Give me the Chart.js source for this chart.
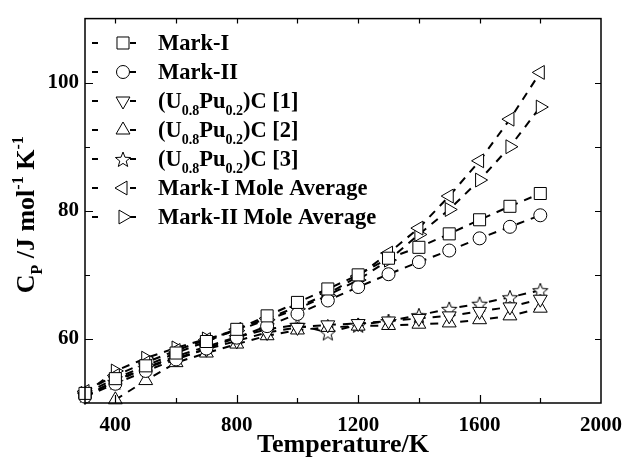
<!DOCTYPE html>
<html>
<head>
<meta charset="utf-8">
<title>Heat capacity</title>
<script src="https://cdn.jsdelivr.net/npm/chart.js@4.4.1/dist/chart.umd.min.js"></script>
<style>
  html, body { margin: 0; padding: 0; background: #fff; }
  #wrap { width: 632px; height: 461px; }
</style>
</head>
<body>
<div id="wrap"><canvas id="cpChart" width="632" height="461"></canvas></div>
<script>
// temperatures (K)
const temps = [300, 400, 500, 600, 700, 800, 900, 1000, 1100, 1200, 1300, 1400, 1500, 1600, 1700, 1800];

// Cp values, J mol-1 K-1
const markI     = [51.5, 53.8, 55.8, 57.8, 59.6, 61.5, 63.6, 65.7, 67.8, 70.0, 72.6, 74.3, 76.4, 78.6, 80.7, 82.7];
const markII    = [51.0, 53.0, 55.0, 56.8, 58.5, 60.2, 62.0, 63.9, 66.0, 68.1, 70.1, 72.0, 73.8, 75.7, 77.5, 79.3];
const upc1      = [51.0, 53.5, 55.5, 57.0, 58.4, 59.7, 61.0, 61.8, 62.2, 62.4, 62.8, 63.2, 63.6, 64.3, 65.0, 66.2];
const upc2      = [null, 50.5, 53.5, 56.3, 57.8, 59.2, 60.5, 61.4, 61.8, 62.0, 62.1, 62.3, 62.5, 63.0, 63.6, 64.8];
const upc3      = [51.3, 53.3, 55.5, 57.3, 58.8, 60.3, 61.5, 62.2, 61.0, 62.2, 62.8, 63.7, 64.7, 65.5, 66.5, 67.6];
const markIAvg  = [51.8, 54.3, 56.3, 58.2, 59.9, 61.5, 63.2, 65.0, 67.0, 69.8, 73.4, 77.3, 82.3, 87.8, 94.3, 101.6];
const markIIAvg = [51.5, 55.0, 57.0, 58.6, 60.0, 61.3, 63.0, 64.7, 66.8, 69.2, 72.3, 76.3, 80.2, 84.8, 90.0, 96.2];

const seriesNames = ["Mark-I", "Mark-II", "(U0.8Pu0.2)C [1]", "(U0.8Pu0.2)C [2]",
                     "(U0.8Pu0.2)C [3]", "Mark-I Mole Average", "Mark-II Mole Average"];

const FONT = "'Liberation Serif', 'Times New Roman', serif";

// hollow five point star, Chart.js has no such point style
function makeStar(outer, inner) {
  const c = document.createElement("canvas");
  const s = Math.ceil(outer * 2 + 4);
  c.width = s; c.height = s;
  const g = c.getContext("2d");
  g.beginPath();
  for (let i = 0; i < 10; i++) {
    const r = i % 2 === 0 ? outer : inner;
    const a = -Math.PI / 2 + i * Math.PI / 5;
    const px = s / 2 + r * Math.cos(a), py = s / 2 + 1 + r * Math.sin(a);
    if (i === 0) g.moveTo(px, py); else g.lineTo(px, py);
  }
  g.closePath();
  g.fillStyle = "#fff";
  g.fill();
  g.strokeStyle = "#000";
  g.lineWidth = 1;
  g.stroke();
  return c;
}
const starImg = makeStar(8, 3.4);

// marker per series: style, rotation, radius
const markers = [
  { style: "rect", rot: 0, r: 8.5 },
  { style: "circle", rot: 0, r: 6.5 },
  { style: "triangle", rot: 180, r: 8 },
  { style: "triangle", rot: 0, r: 8 },
  { style: starImg, rot: 0, r: 8 },
  { style: "triangle", rot: 270, r: 8 },
  { style: "triangle", rot: 90, r: 8 }
];

const allData = [markI, markII, upc1, upc2, upc3, markIAvg, markIIAvg];

const datasets = allData.map((vals, i) => ({
  label: seriesNames[i],
  data: temps.map((t, k) => ({ x: t, y: vals[k] })),
  borderColor: "#000",
  borderWidth: 2,
  borderDash: [8, 7],
  backgroundColor: "#fff",
  pointStyle: markers[i].style,
  rotation: markers[i].rot,
  pointRadius: markers[i].r,
  pointBorderWidth: 1,
  pointBorderColor: "#000",
  pointBackgroundColor: "#fff",
  fill: false,
  tension: 0,
  clip: false
}));

// draw a run of text pieces (normal / sub / superscript)
function drawPieces(ctx, pieces, x, y, size, align) {
  const small = Math.round(size * 0.6);
  let total = 0;
  pieces.forEach(p => {
    ctx.font = "bold " + (p.s ? small : size) + "px " + FONT;
    p.w = ctx.measureText(p.t).width;
    total += p.w;
  });
  let cx = align === "center" ? x - total / 2 : x;
  pieces.forEach(p => {
    ctx.font = "bold " + (p.s ? small : size) + "px " + FONT;
    ctx.fillText(p.t, cx, y + (p.s === "sub" ? size * 0.3 : p.s === "sup" ? -size * 0.42 : 0));
    cx += p.w;
  });
}

function labelPieces(name) {
  const m = name.match(/^\(U0\.8Pu0\.2\)C (.*)$/);
  if (!m) return [{ t: name }];
  return [{ t: "(U" }, { t: "0.8", s: "sub" }, { t: "Pu" }, { t: "0.2", s: "sub" }, { t: ")C " + m[1] }];
}

function drawMarker(ctx, mk, x, y) {
  ctx.save();
  ctx.fillStyle = "#fff";
  ctx.strokeStyle = "#000";
  ctx.lineWidth = 1;
  if (mk.style === starImg) {
    ctx.drawImage(starImg, x - starImg.width / 2, y - starImg.height / 2);
    ctx.restore();
    return;
  }
  ctx.beginPath();
  if (mk.style === "rect") {
    const h = Math.SQRT1_2 * mk.r;
    ctx.rect(x - h, y - h, 2 * h, 2 * h);
  } else if (mk.style === "circle") {
    ctx.arc(x, y, mk.r, 0, Math.PI * 2);
  } else {
    let a = mk.rot * Math.PI / 180;
    for (let i = 0; i < 3; i++) {
      const px = x + Math.sin(a) * mk.r, py = y - Math.cos(a) * mk.r;
      if (i === 0) ctx.moveTo(px, py); else ctx.lineTo(px, py);
      a += Math.PI * 2 / 3;
    }
    ctx.closePath();
  }
  ctx.fill();
  ctx.stroke();
  ctx.restore();
}

// frame, inward ticks, titles and legend
const decorations = {
  id: "decorations",
  afterDraw(chart) {
    const { ctx, chartArea: a, scales: { x, y } } = chart;
    ctx.save();
    ctx.strokeStyle = "#000";
    ctx.lineWidth = 1.5;
    ctx.strokeRect(a.left, a.top, a.right - a.left, a.bottom - a.top);

    ctx.lineWidth = 1.2;
    ctx.beginPath();
    for (let t = 400; t < 2000; t += 200) {
      const px = Math.round(x.getPixelForValue(t)) + 0.5;
      const len = t % 400 === 0 ? 8 : 5;
      ctx.moveTo(px, a.bottom); ctx.lineTo(px, a.bottom - len);
      ctx.moveTo(px, a.top); ctx.lineTo(px, a.top + 5);
    }
    for (let v = 60; v <= 100; v += 10) {
      const py = Math.round(y.getPixelForValue(v)) + 0.5;
      const len = v % 20 === 0 ? 8 : 5;
      ctx.moveTo(a.left, py); ctx.lineTo(a.left + len, py);
      ctx.moveTo(a.right, py); ctx.lineTo(a.right - 6, py);
    }
    ctx.stroke();

    ctx.fillStyle = "#000";
    ctx.textBaseline = "alphabetic";
    ctx.textAlign = "left";

    // x title
    drawPieces(ctx, [{ t: "Temperature/K" }], (a.left + a.right) / 2, 452, 26, "center");

    // y title
    ctx.save();
    ctx.translate(34, (a.top + a.bottom) / 2 + 4);
    ctx.rotate(-Math.PI / 2);
    drawPieces(ctx, [{ t: "C" }, { t: "P", s: "sub" }, { t: " /J mol" }, { t: "-1", s: "sup" },
                     { t: " K" }, { t: "-1", s: "sup" }], 0, 0, 26, "center");
    ctx.restore();

    // legend
    const rowY0 = 43, rowH = 29;
    seriesNames.forEach((name, i) => {
      const yy = rowY0 + i * rowH;
      ctx.lineWidth = 2;
      ctx.beginPath();
      ctx.moveTo(92, yy); ctx.lineTo(98, yy);
      ctx.moveTo(130, yy); ctx.lineTo(136, yy);
      ctx.stroke();
      drawMarker(ctx, markers[i], 123, yy);
      ctx.fillStyle = "#000";
      drawPieces(ctx, labelPieces(name), 158, yy + 7, 22.5, "left");
    });
    ctx.restore();
  }
};

new Chart(document.getElementById("cpChart"), {
  type: "line",
  data: { datasets },
  options: {
    responsive: false,
    animation: false,
    layout: { padding: { left: 0, top: 15, right: 29, bottom: 0 } },
    plugins: { legend: { display: false }, tooltip: { enabled: false } },
    scales: {
      x: {
        type: "linear",
        min: 300, max: 2000,
        grid: { display: false, drawTicks: false },
        border: { display: false },
        ticks: {
          stepSize: 100, autoSkip: false, maxRotation: 0, padding: 10,
          color: "#000",
          font: { family: FONT, size: 21, weight: "bold" },
          callback: v => (v % 400 === 0 ? String(v) : "")
        },
        afterFit: s => { s.height = 58; }
      },
      y: {
        min: 50, max: 110,
        grid: { display: false, drawTicks: false },
        border: { display: false },
        ticks: {
          stepSize: 10, autoSkip: false, padding: 6,
          color: "#000",
          font: { family: FONT, size: 21, weight: "bold" },
          callback: v => (v % 20 === 0 && v >= 60 && v <= 100 ? String(v) : "")
        },
        afterFit: s => { s.width = 85; }
      }
    }
  },
  plugins: [decorations]
});
</script>
</body>
</html>
